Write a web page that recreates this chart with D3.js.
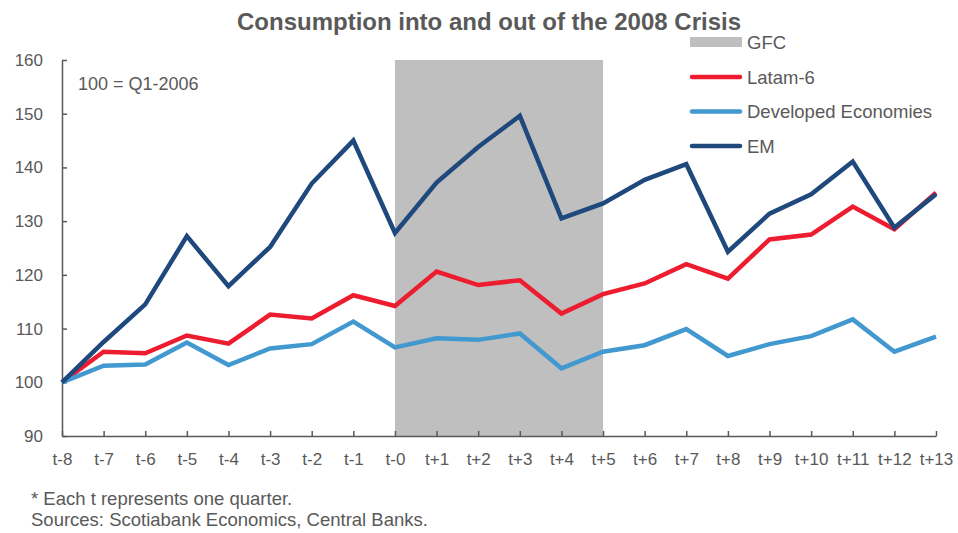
<!DOCTYPE html>
<html>
<head>
<meta charset="utf-8">
<script src="https://cdn.jsdelivr.net/npm/d3@7/dist/d3.min.js"></script>
<style>
  body { margin: 0; background: #fff; }
  svg { display: block; font-family: "Liberation Sans", Arial, sans-serif; }
</style>
</head>
<body>
<svg width="958" height="533"></svg>
<script>
const width = 958;
const height = 533;

// data
const periods = ["t-8","t-7","t-6","t-5","t-4","t-3","t-2","t-1","t-0","t+1","t+2","t+3","t+4","t+5","t+6","t+7","t+8","t+9","t+10","t+11","t+12","t+13"];
const latam    = [100, 105.7, 105.4, 108.7, 107.2, 112.6, 111.9, 116.2, 114.2, 120.6, 118.1, 119.0, 112.8, 116.4, 118.4, 122.0, 119.3, 126.6, 127.5, 132.7, 128.5, 135.3];
const developed = [100, 103.1, 103.3, 107.4, 103.2, 106.3, 107.1, 111.3, 106.5, 108.2, 107.9, 109.1, 102.6, 105.7, 106.9, 109.9, 104.9, 107.1, 108.6, 111.7, 105.7, 108.5];
const em       = [100, 107.5, 114.5, 127.2, 117.9, 125.2, 137.0, 145.0, 127.8, 137.2, 143.8, 149.6, 130.5, 133.3, 137.7, 140.6, 124.3, 131.4, 135.0, 141.1, 128.8, 135.0];
const gfcSpan  = ["t-0", "t+5"];
const yTicks   = [90, 100, 110, 120, 130, 140, 150, 160];

const series = [
  { name: "Latam-6", values: latam, color: "#ED1C2E" },
  { name: "Developed Economies", values: developed, color: "#4199CF" },
  { name: "EM", values: em, color: "#1F497D" }
];

const textColor = "#595959";
const margin = { left: 62, right: 22, top: 60, bottom: 97 };

const svg = d3.select("svg");

const x = d3.scalePoint()
  .domain(periods)
  .range([margin.left, width - margin.right]);

const y = d3.scaleLinear()
  .domain([90, 160])
  .range([height - margin.bottom, margin.top]);

// GFC shaded band
svg.append("rect")
  .attr("x", x(gfcSpan[0]))
  .attr("y", y(160))
  .attr("width", x(gfcSpan[1]) - x(gfcSpan[0]))
  .attr("height", y(90) - y(160))
  .attr("fill", "#BFBFBF");

// y axis
const yAxis = svg.append("g")
  .attr("transform", `translate(${margin.left},0)`)
  .call(d3.axisLeft(y).tickValues(yTicks).tickSizeInner(-5).tickSizeOuter(0).tickPadding(19));
yAxis.select(".domain").attr("stroke", textColor).attr("stroke-width", 1.5);
yAxis.selectAll(".tick line").attr("stroke", textColor).attr("stroke-width", 1.5);
yAxis.selectAll(".tick text")
  .attr("fill", textColor)
  .style("font-size", "17px");

// x axis
const xAxis = svg.append("g")
  .attr("transform", `translate(0,${y(90)})`)
  .call(d3.axisBottom(x).tickSizeInner(-5).tickSizeOuter(0).tickPadding(17));
xAxis.select(".domain").attr("stroke", textColor).attr("stroke-width", 1.5);
xAxis.selectAll(".tick line").attr("stroke", textColor).attr("stroke-width", 1.5);
xAxis.selectAll(".tick text")
  .attr("fill", textColor)
  .style("font-size", "17px");

// lines
const line = d3.line()
  .x((d, i) => x(periods[i]))
  .y(d => y(d));

series.forEach(s => {
  svg.append("path")
    .datum(s.values)
    .attr("fill", "none")
    .attr("stroke", s.color)
    .attr("stroke-width", 4.5)
    .attr("stroke-linejoin", "miter")
    .attr("d", line);
});

// title
svg.append("text")
  .attr("x", 489)
  .attr("y", 30)
  .attr("text-anchor", "middle")
  .attr("fill", textColor)
  .style("font-size", "24px")
  .style("font-weight", "bold")
  .text("Consumption into and out of the 2008 Crisis");

// base note
svg.append("text")
  .attr("x", 78)
  .attr("y", 90)
  .attr("fill", textColor)
  .style("font-size", "18px")
  .text("100 = Q1-2006");

// legend
const legend = svg.append("g").attr("transform", "translate(690,0)");
legend.append("rect")
  .attr("x", 0).attr("y", 37)
  .attr("width", 52).attr("height", 10)
  .attr("fill", "#BFBFBF");
legend.append("text")
  .attr("x", 57).attr("y", 49)
  .attr("fill", textColor)
  .style("font-size", "18.5px")
  .text("GFC");

series.forEach((s, i) => {
  const ly = 77 + i * 34.5;
  legend.append("line")
    .attr("x1", 2).attr("x2", 50)
    .attr("y1", ly).attr("y2", ly)
    .attr("stroke", s.color)
    .attr("stroke-width", 4.5)
    .attr("stroke-linecap", "round");
  legend.append("text")
    .attr("x", 57).attr("y", ly + 6.5)
    .attr("fill", textColor)
    .style("font-size", "18.5px")
    .text(s.name);
});

// footnotes
svg.append("text")
  .attr("x", 31).attr("y", 505)
  .attr("fill", textColor)
  .style("font-size", "18.5px")
  .text("* Each t represents one quarter.");
svg.append("text")
  .attr("x", 31).attr("y", 526)
  .attr("fill", textColor)
  .style("font-size", "18.5px")
  .text("Sources: Scotiabank Economics, Central Banks.");
</script>
</body>
</html>
